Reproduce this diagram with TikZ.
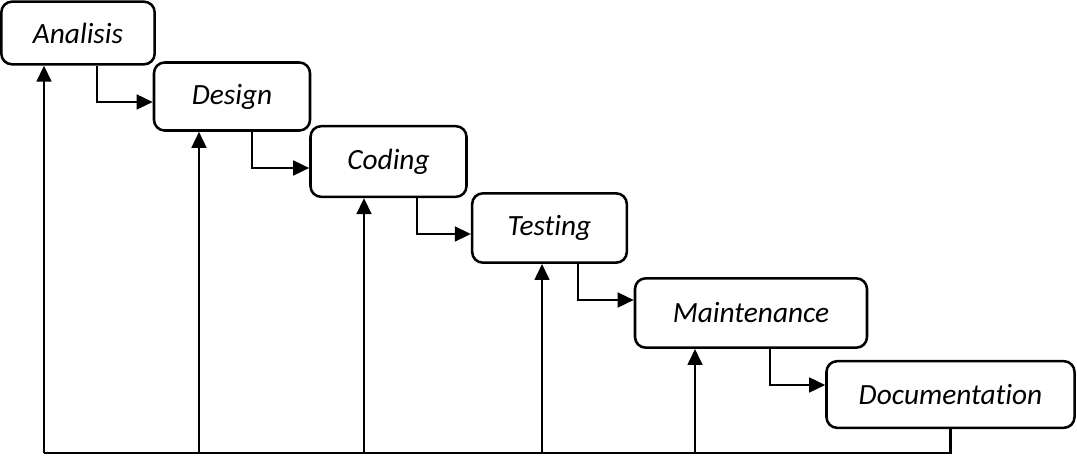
\documentclass[tikz,border=0pt]{standalone}
\usepackage{fontspec}
\setmainfont{Carlito}[Ligatures={NoCommon}]
\usetikzlibrary{arrows.meta,calc}
\begin{document}
\begin{tikzpicture}[x=0.75pt,y=-0.75pt,
  box/.style={draw,line width=1.9pt,rounded corners=8pt,inner sep=0pt,
    font=\fontsize{22}{24}\selectfont\itshape},
  conn/.style={line width=1.9pt},
  arr/.style={conn,-{Triangle[length=12pt,width=11pt]}}]
\useasboundingbox (0,0) rectangle (1077,460);
\node[box,minimum width=115pt,minimum height=47pt] (a) at (78,33) {Analisis};
\node[box,minimum width=117pt,minimum height=51pt] (b) at (232,96.5) {Design};
\node[box,minimum width=117pt,minimum height=53pt] (c) at (388.5,161.5) {Coding};
\node[box,minimum width=116pt,minimum height=52pt] (d) at (549.5,228) {Testing};
\node[box,minimum width=174pt,minimum height=52pt] (e) at (751,313) {Maintenance};
\node[box,minimum width=186pt,minimum height=50pt] (f) at (950.5,394.5) {Documentation};
% step connectors
\coordinate (e1) at (97,102);
\coordinate (e2) at (252,168);
\coordinate (e3) at (417,234);
\coordinate (e4) at (578,300);
\coordinate (e5) at (770,385);
\draw[arr] (a.south -| e1) |- (b.west |- e1);
\draw[arr] (b.south -| e2) |- (c.west |- e2);
\draw[arr] (c.south -| e3) |- (d.west |- e3);
\draw[arr] (d.south -| e4) |- (e.west |- e4);
\draw[arr] (e.south -| e5) |- (f.west |- e5);
% feedback
\coordinate (v1) at (44,453);
\coordinate (v2) at (199,453);
\coordinate (v3) at (364,453);
\coordinate (v4) at (542,453);
\coordinate (v5) at (695,453);
\draw[conn] (f.south) -- (f.south |- v1) -- (v1);
\draw[arr] (v1) -- (a.south -| v1);
\draw[arr] (v2) -- (b.south -| v2);
\draw[arr] (v3) -- (c.south -| v3);
\draw[arr] (v4) -- (d.south -| v4);
\draw[arr] (v5) -- (e.south -| v5);
\end{tikzpicture}
\end{document}
